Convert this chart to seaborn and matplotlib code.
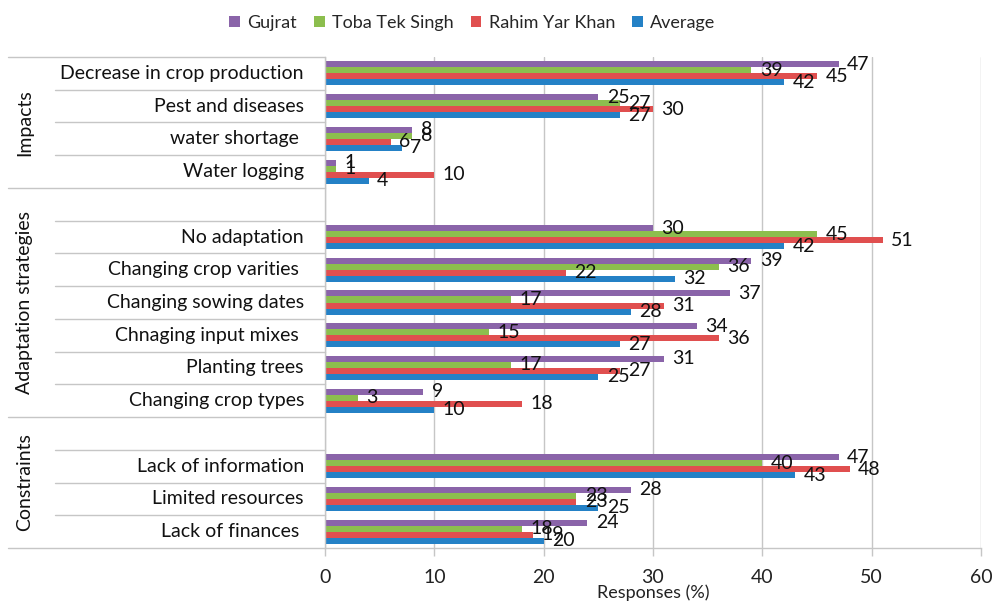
import pandas as pd
import seaborn as sns
import matplotlib.pyplot as plt

# ---- data -------------------------------------------------------------
impacts = ["Decrease in crop production", "Pest and diseases",
           "water shortage ", "Water logging"]
adaptation = ["No adaptation", "Changing crop varities ", "Changing sowing dates",
              "Chnaging input mixes ", "Planting trees", "Changing crop types"]
constraints = ["Lack of information", "Limited resources", "Lack of finances "]
group_names = ["Impacts", "Adaptation strategies", "Constraints"]

series_names = ["Gujrat", "Toba Tek Singh", "Rahim Yar Khan", "Average"]
gujrat = [47, 25, 8, 1, 30, 39, 37, 34, 31, 9, 47, 28, 24]
toba_tek_singh = [39, 27, 8, 1, 45, 36, 17, 15, 17, 3, 40, 23, 18]
rahim_yar_khan = [45, 30, 6, 10, 51, 22, 31, 36, 27, 18, 48, 23, 19]
average = [42, 27, 7, 4, 42, 32, 28, 27, 25, 10, 43, 25, 20]

x_ticks = [0, 10, 20, 30, 40, 50, 60]
x_label = "Responses (%)"

colors = ["#8A64A9", "#8CBE4E", "#E04F4F", "#2481C6"]

# ---- table for seaborn -----------------------------------------------
categories = impacts + adaptation + constraints
rows = []
for name, vals in zip(series_names, [gujrat, toba_tek_singh, rahim_yar_khan, average]):
    for cat, v in zip(categories, vals):
        rows.append({"category": cat, "series": name, "value": v})
df = pd.DataFrame(rows)

# blank spacer rows separate the three groups
row_order = impacts + [" "] + adaptation + ["  "] + constraints

sns.set_theme(style="white")
plt.rcParams["font.family"] = ["Lato", "DejaVu Sans"]

FS = 14
fig = plt.figure(figsize=(9.92, 6.06), dpi=100)
ax = fig.add_axes([325 / 992, 1 - 548 / 606, 656 / 992, 491 / 606])

sns.barplot(data=df, y="category", x="value", hue="series",
            order=row_order, hue_order=series_names, palette=colors,
            orient="h", width=0.735, saturation=1, errorbar=None,
            linewidth=0, ax=ax)

grid_c = "#C6C6C6"
ax.set_xlim(0, 60)
ax.set_ylim(len(row_order) - 0.5, -0.5)
ax.set_xticks(x_ticks)
ax.xaxis.grid(True, color=grid_c, linewidth=1)
ax.yaxis.grid(False)
ax.set_axisbelow(True)
for s in ["top", "right"]:
    ax.spines[s].set_visible(False)
for s in ["left", "bottom"]:
    ax.spines[s].set_color(grid_c)
    ax.spines[s].set_linewidth(1)
ax.tick_params(axis="x", length=6, width=1, color=grid_c, pad=9,
               labelsize=FS, labelcolor="#222222", bottom=True)
ax.tick_params(axis="y", left=False, labelleft=False)
ax.set_ylabel("")
ax.set_xlabel(x_label, fontsize=13, color="#222222")
ax.xaxis.set_label_coords(0.5, -45 / 491)
ax.xaxis.label.set_va("center")

# value labels at bar ends
for cont in ax.containers:
    ax.bar_label(cont, fmt="%g", padding=6, fontsize=FS, color="#111111")

# ---- two-level category axis on the left -----------------------------
ytr = ax.get_yaxis_transform()
x_text = (304 - 325) / 656
x_outer = (8 - 325) / 656
x_inner = (55 - 325) / 656
x_group = (25 - 325) / 656

for i, cat in enumerate(row_order):
    if cat.strip():
        ax.text(x_text, i, cat, transform=ytr, ha="right", va="center",
                fontsize=FS, color="#111111")

group_bounds = [(-0.5, 3.5), (3.5, 10.5), (10.5, 14.5)]
for (lo, hi), gname in zip(group_bounds, group_names):
    ax.text(x_group, (lo + hi) / 2, gname, transform=ytr, rotation=90,
            ha="center", va="center", fontsize=FS, color="#111111")

for yb in [-0.5, 3.5, 10.5, 14.5]:
    ax.plot([x_outer, 0], [yb, yb], transform=ytr, color=grid_c, lw=1,
            clip_on=False)
inner = [0.5, 1.5, 2.5, 4.5, 5.5, 6.5, 7.5, 8.5, 9.5, 11.5, 12.5, 13.5]
for yb in inner:
    ax.plot([x_inner, 0], [yb, yb], transform=ytr, color=grid_c, lw=1,
            clip_on=False)

# ---- legend ------------------------------------------------------------
handles, labels = ax.get_legend_handles_labels()
if ax.get_legend() is not None:
    ax.get_legend().remove()
fig.legend(handles, labels, loc="center", bbox_to_anchor=(0.476, 0.962),
           ncol=4, frameon=False, handlelength=0.6, handleheight=0.6,
           columnspacing=0.95, handletextpad=0.4, fontsize=13)

fig.savefig("out.png", dpi=100)
